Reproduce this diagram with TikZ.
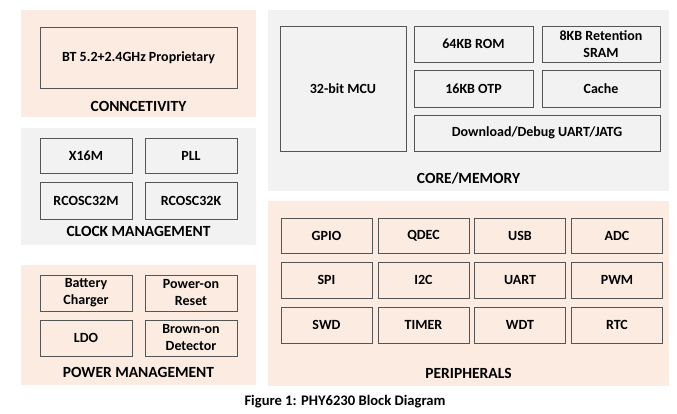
\documentclass[tikz,border=0pt]{standalone}
\usepackage{fontspec}
\setmainfont{Carlito}
\definecolor{peach}{HTML}{FBEBE1}
\definecolor{lightgrey}{HTML}{F2F2F2}
\definecolor{edgegrey}{HTML}{555555}
\begin{document}
\begin{tikzpicture}[x=1pt,y=-1pt,font=\bfseries\fontsize{14}{17}\selectfont]
    \tikzset{bloc/.style={draw=edgegrey, line width=0.9pt, inner sep=0pt, align=center}}
    \tikzset{panneau/.style={inner sep=0pt, draw=none}}
    \tikzset{titre/.style={inner sep=0pt, font=\bfseries\fontsize{15.5}{18}\selectfont}}
    \useasboundingbox (0,0) rectangle (677,414);
    % panels
    \node[panneau, fill=peach, minimum width=235, minimum height=107] (conn) at (138.5, 63.5) {};
    \node[panneau, fill=lightgrey, minimum width=235, minimum height=117] (clock) at (138.5, 186.5) {};
    \node[panneau, fill=peach, minimum width=235, minimum height=120] (power) at (138.5, 325) {};
    \node[panneau, fill=lightgrey, minimum width=401, minimum height=181] (core) at (468.5, 100.5) {};
    \node[panneau, fill=peach, minimum width=401, minimum height=185] (periph) at (468.5, 293.5) {};
    % connectivity
    \node[bloc, minimum width=197, minimum height=61] (bt) at (138.5, 57.5) {BT 5.2+2.4GHz Proprietary};
    \node[titre] (connlbl) at (138.5, 106) {CONNCETIVITY};
    % clock management
    \node[bloc, minimum width=92, minimum height=35] (x16m) at (86, 155.5) {X16M};
    \node[bloc, minimum width=92, minimum height=35] (pll) at (191, 155.5) {PLL};
    \node[bloc, minimum width=92, minimum height=37] (rc32m) at (86, 200.5) {RCOSC32M};
    \node[bloc, minimum width=92, minimum height=37] (rc32k) at (191, 200.5) {RCOSC32K};
    \node[titre] (clocklbl) at (138.5, 231.5) {CLOCK MANAGEMENT};
    % power management
    \node[bloc, minimum width=92, minimum height=36] (batt) at (86, 293) {Battery\\Charger};
    \node[bloc, minimum width=92, minimum height=36] (por) at (191, 293) {Power-on\\Reset};
    \node[bloc, minimum width=92, minimum height=36] (ldo) at (86, 338) {LDO};
    \node[bloc, minimum width=92, minimum height=36] (bod) at (191, 338) {Brown-on\\Detector};
    \node[titre] (powerlbl) at (138.5, 372) {POWER MANAGEMENT};
    % core / memory
    \node[bloc, minimum width=126, minimum height=125] (mcu) at (343, 88.5) {32-bit MCU};
    \node[bloc, minimum width=119, minimum height=36] (rom) at (473.5, 44) {64KB ROM};
    \node[bloc, minimum width=118, minimum height=36] (sram) at (601, 44) {8KB Retention\\SRAM};
    \node[bloc, minimum width=119, minimum height=37] (otp) at (473.5, 88.5) {16KB OTP};
    \node[bloc, minimum width=118, minimum height=37] (cache) at (601, 88.5) {Cache};
    \node[bloc, minimum width=246, minimum height=36] (dbg) at (537, 133) {Download/Debug UART/JATG};
    \node[titre] (corelbl) at (468.5, 178) {CORE/MEMORY};
    % peripherals
    \node[bloc, minimum width=91, minimum height=35] (gpio) at (326.5, 235.5) {GPIO};
    \node[bloc, minimum width=91, minimum height=35] (qdec) at (423.5, 235.5) {QDEC};
    \node[bloc, minimum width=91, minimum height=35] (usb) at (520, 235.5) {USB};
    \node[bloc, minimum width=91, minimum height=35] (adc) at (617, 235.5) {ADC};
    \node[bloc, minimum width=91, minimum height=36] (spi) at (326.5, 280) {SPI};
    \node[bloc, minimum width=91, minimum height=36] (iic) at (423.5, 280) {I2C};
    \node[bloc, minimum width=91, minimum height=36] (uart) at (520, 280) {UART};
    \node[bloc, minimum width=91, minimum height=36] (pwm) at (617, 280) {PWM};
    \node[bloc, minimum width=91, minimum height=36] (swd) at (326.5, 325) {SWD};
    \node[bloc, minimum width=91, minimum height=36] (timer) at (423.5, 325) {TIMER};
    \node[bloc, minimum width=91, minimum height=36] (wdt) at (520, 325) {WDT};
    \node[bloc, minimum width=91, minimum height=36] (rtc) at (617, 325) {RTC};
    \node[titre] (periphlbl) at (468.5, 373) {PERIPHERALS};
    % caption
    \node[inner sep=0pt, font=\bfseries\fontsize{14.6}{17}\selectfont] (legende) at (345, 402) {Figure 1: PHY6230 Block Diagram};
\end{tikzpicture}
\end{document}
